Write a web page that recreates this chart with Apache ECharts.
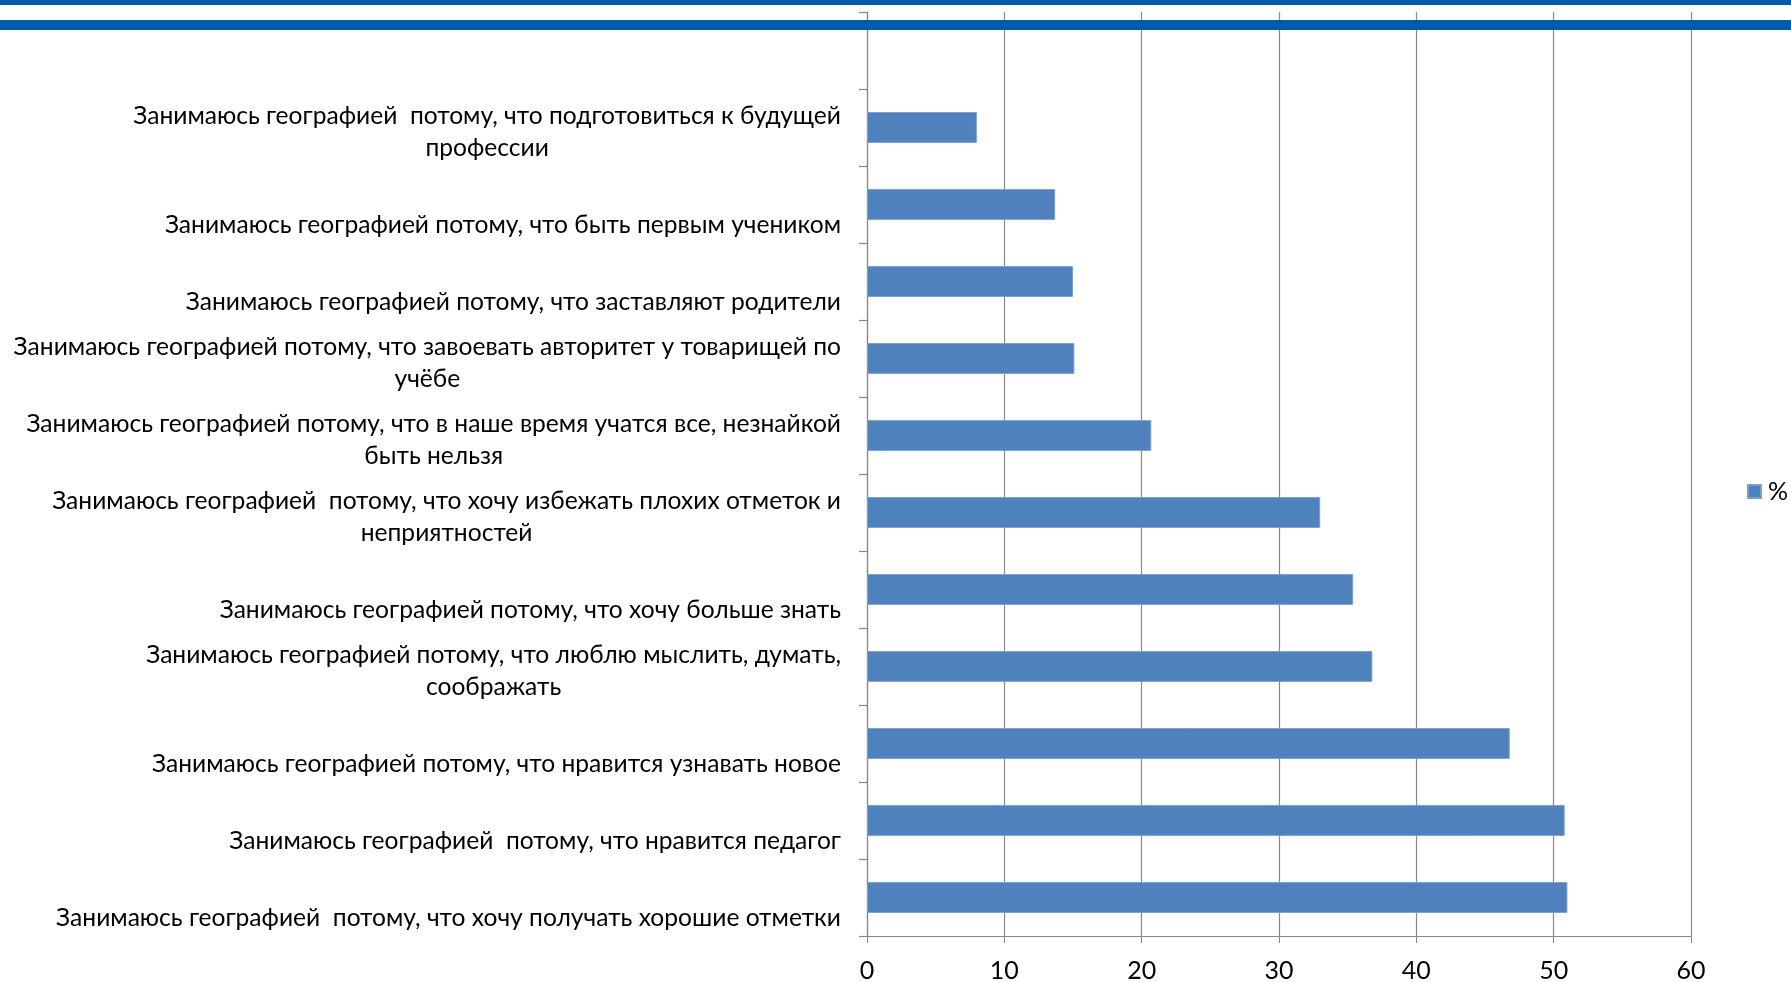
<!DOCTYPE html>
<html>
<head>
<meta charset="utf-8">
<script src="https://cdn.jsdelivr.net/npm/echarts@6/dist/echarts.min.js"></script>
<style>
html,body{margin:0;padding:0;background:#fff;}
#chart{width:1791px;height:982px;}
</style>
</head>
<body>
<div id="chart"></div>
<script>
// Categories from bottom to top (top slot is empty in the original)
var categories = [
  'Занимаюсь географией  потому, что хочу получать хорошие отметки',
  'Занимаюсь географией  потому, что нравится педагог',
  'Занимаюсь географией потому, что нравится узнавать новое',
  'Занимаюсь географией потому, что люблю мыслить, думать,\nсоображать',
  'Занимаюсь географией потому, что хочу больше знать',
  'Занимаюсь географией  потому, что хочу избежать плохих отметок и\nнеприятностей',
  'Занимаюсь географией потому, что в наше время учатся все, незнайкой\nбыть нельзя',
  'Занимаюсь географией потому, что завоевать авторитет у товарищей по\nучёбе',
  'Занимаюсь географией потому, что заставляют родители',
  'Занимаюсь географией потому, что быть первым учеником',
  'Занимаюсь географией  потому, что подготовиться к будущей\nпрофессии',
  ''
];
var percentValues = [51.0, 50.8, 46.8, 36.8, 35.4, 33.0, 20.7, 15.1, 15.0, 13.7, 8.0, null];
var xTicks = { min: 0, max: 60, interval: 10 };
var seriesName = '%';

var FONT = 'Lato, "Open Sans", sans-serif';
var chart = echarts.init(document.getElementById('chart'), null, { renderer: 'canvas' });

function fmtLabel(v) {
  if (!v) return '';
  var lines = v.split('\n');
  var spacer = lines.length > 1 ? '{s2| }' : '{s1| }';
  return spacer + '\n' + lines.map(function (l) { return '{t|' + l + '}'; }).join('\n');
}

chart.setOption({
  animation: false,
  backgroundColor: '#ffffff',
  grid: { left: 867, top: 12, width: 824, height: 924, containLabel: false, outerBoundsMode: 'none' },
  legend: {
    data: [seriesName],
    left: 1747, top: 479,
    padding: 0,
    itemWidth: 13, itemHeight: 13,
    icon: 'rect',
    textStyle: { fontFamily: FONT, fontSize: 25, color: '#000', padding: [0, 0, 0, 2] }
  },
  xAxis: {
    type: 'value',
    min: xTicks.min, max: xTicks.max, interval: xTicks.interval,
    axisLine: { show: true, lineStyle: { color: '#888888', width: 1 } },
    axisTick: { show: true, length: 7, lineStyle: { color: '#888888' } },
    splitLine: { show: true, lineStyle: { color: '#888888', width: 1.2 } },
    axisLabel: { fontFamily: FONT, fontSize: 25, color: '#000', margin: 22 }
  },
  yAxis: {
    type: 'category',
    data: categories,
    boundaryGap: true,
    axisLine: { show: true, lineStyle: { color: '#888888', width: 1.2 } },
    axisTick: { show: true, length: 8, lineStyle: { color: '#888888', width: 1.2 } },
    splitLine: { show: false },
    axisLabel: {
      interval: 0,
      margin: 26,
      formatter: fmtLabel,
      rich: {
        s1: { lineHeight: 42, fontSize: 10 },
        s2: { lineHeight: 10, fontSize: 10 },
        t: { align: 'center', fontFamily: FONT, fontSize: 24.6, lineHeight: 32, color: '#000' }
      }
    }
  },
  series: [{
    name: seriesName,
    type: 'bar',
    data: percentValues,
    barCategoryGap: '60%',
    itemStyle: { color: '#4F81BD', borderColor: '#7A9FCF', borderWidth: 1 }
  }],
  graphic: [
    { type: 'rect', z: 100, shape: { x: 0, y: 0, width: 1791, height: 5 }, style: { fill: '#005BAA' } },
    { type: 'rect', z: 100, shape: { x: 0, y: 20, width: 1791, height: 10 }, style: { fill: '#005BAA' } }
  ]
});
</script>
</body>
</html>
